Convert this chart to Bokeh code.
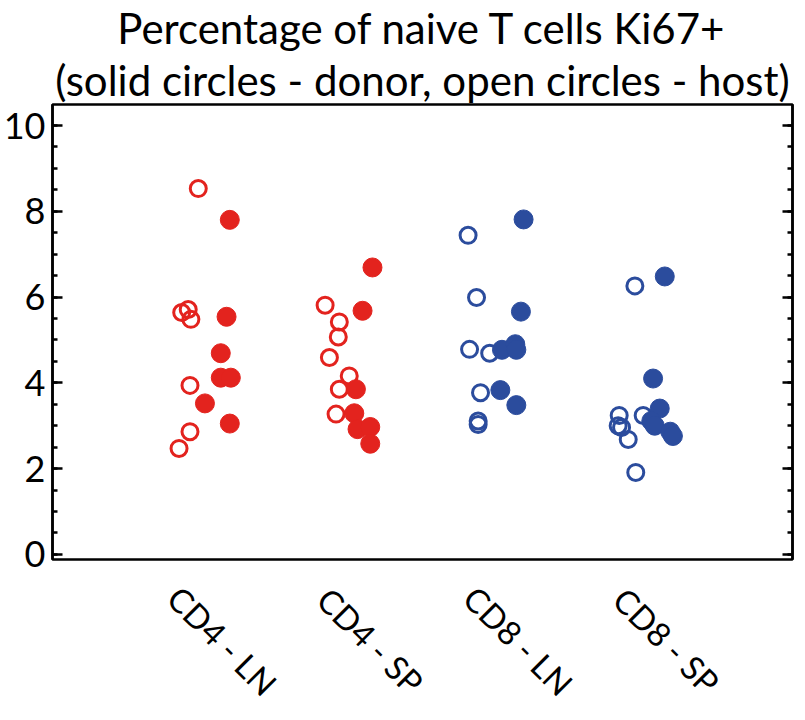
import math
from bokeh.plotting import figure
from bokeh.layouts import column
from bokeh.models import Range1d, LinearAxis, SingleIntervalTicker, ColumnDataSource, Title
from bokeh.core.properties import value
from bokeh.embed import file_html
from bokeh.resources import INLINE

# ---- data ----
categories = ["CD4 - LN", "CD4 - SP", "CD8 - LN", "CD8 - SP"]
cat_pos = [1, 2, 3, 4]
cat_colors = ["#E3231E", "#E3231E", "#2B4C9D", "#2B4C9D"]

# host (open circles)
host_cd4_ln = [8.53, 5.64, 5.71, 5.48, 3.94, 2.86, 2.47]
host_cd4_sp = [5.81, 5.42, 5.07, 4.59, 4.16, 3.85, 3.27]
host_cd8_ln = [7.44, 5.99, 4.78, 4.69, 3.77, 3.11, 3.03]
host_cd8_sp = [6.26, 3.24, 3.24, 3.00, 2.96, 2.68, 1.91]
# horizontal jitter of host points (category units)
host_jit_cd4_ln = [-0.015, -0.127, -0.083, -0.065, -0.071, -0.071, -0.145]
host_jit_cd4_sp = [-0.158, -0.062, -0.069, -0.129, 0.005, -0.062, -0.084]
host_jit_cd8_ln = [-0.192, -0.135, -0.182, -0.046, -0.108, -0.124, -0.124]
host_jit_cd8_sp = [-0.065, -0.009, -0.171, -0.178, -0.155, -0.110, -0.059]

# donor (solid circles)
donor_cd4_ln = [7.80, 5.54, 4.69, 4.12, 4.12, 3.52, 3.05]
donor_cd4_sp = [6.69, 5.68, 3.85, 3.29, 2.92, 2.97, 2.58]
donor_cd8_ln = [7.81, 5.66, 4.77, 4.90, 4.77, 3.83, 3.48]
donor_cd8_sp = [6.48, 4.10, 3.40, 3.11, 3.00, 2.86, 2.76]
donor_jit_cd4_ln = [0.198, 0.176, 0.137, 0.137, 0.205, 0.030, 0.198]
donor_jit_cd4_sp = [0.162, 0.095, 0.050, 0.039, 0.061, 0.147, 0.147]
donor_jit_cd8_ln = [0.183, 0.165, 0.037, 0.127, 0.134, 0.026, 0.134]
donor_jit_cd8_sp = [0.137, 0.058, 0.103, 0.046, 0.069, 0.174, 0.192]

host_vals = [host_cd4_ln, host_cd4_sp, host_cd8_ln, host_cd8_sp]
host_jits = [host_jit_cd4_ln, host_jit_cd4_sp, host_jit_cd8_ln, host_jit_cd8_sp]
donor_vals = [donor_cd4_ln, donor_cd4_sp, donor_cd8_ln, donor_cd8_sp]
donor_jits = [donor_jit_cd4_ln, donor_jit_cd4_sp, donor_jit_cd8_ln, donor_jit_cd8_sp]

title_line1 = "Percentage of naive T cells Ki67+"
title_line2 = "(solid circles - donor, open circles - host)"

FONT = "Lato"
W = 797

p = figure(width=W, height=576,
           x_range=Range1d(0, 5), y_range=Range1d(-0.12, 10.49),
           output_backend="svg", toolbar_location=None,
           min_border_left=50, min_border_right=5,
           min_border_top=104, min_border_bottom=17,
           x_axis_location="below", y_axis_location="left")

p.grid.visible = False
p.outline_line_color = "black"
p.outline_line_width = 2.5
p.background_fill_color = "white"
p.border_fill_color = "white"

# title (two centred lines)
p.title.text = title_line1
p.title.align = "center"
p.title.text_font = FONT
p.title.text_font_style = "normal"
p.title.text_font_size = "42px"
p.title.text_color = "black"
p.title.standoff = 0
p.title.offset = 0
t2 = Title(text=title_line2, align="center", text_font=FONT, text_font_style="normal",
           text_font_size="42px", text_color="black", standoff=0, offset=0)
p.add_layout(t2, "above")

# left axis
ya = p.yaxis[0]
ya.ticker = SingleIntervalTicker(interval=2, num_minor_ticks=4)
ya.major_label_text_font = FONT
ya.major_label_text_font_size = "36px"
ya.major_label_text_color = "black"
ya.major_label_standoff = 7
ya.major_tick_in = 10
ya.major_tick_out = 0
ya.minor_tick_in = 5
ya.minor_tick_out = 0
ya.major_tick_line_width = 2.5
ya.minor_tick_line_width = 2.5
ya.axis_line_width = 2.5
ya.axis_line_color = "black"

# right axis (ticks only)
ra = LinearAxis(ticker=SingleIntervalTicker(interval=2, num_minor_ticks=4),
                major_label_text_font_size="0px", major_label_text_color=None,
                major_tick_in=10, major_tick_out=0, minor_tick_in=5, minor_tick_out=0,
                major_tick_line_width=2.5, minor_tick_line_width=2.5,
                axis_line_width=2.5, major_label_standoff=0)
p.add_layout(ra, "right")

# bottom edge is drawn by the frame outline
p.xaxis.visible = False

for c, col, hv, hj, dv, dj in zip(cat_pos, cat_colors, host_vals, host_jits, donor_vals, donor_jits):
    hs = ColumnDataSource(dict(x=[c + j for j in hj], y=hv))
    ds = ColumnDataSource(dict(x=[c + j for j in dj], y=dv))
    p.scatter("x", "y", source=hs, marker="circle", size=16,
              fill_color=None, line_color=col, line_width=3)
    p.scatter("x", "y", source=ds, marker="circle", size=19,
              fill_color=col, line_color=col, line_width=1)

# category labels strip, sharing the x scale of the plot
q = figure(width=W, height=128, x_range=p.x_range, y_range=Range1d(0, 1),
           output_backend="svg", toolbar_location=None,
           min_border_left=50, min_border_right=5, min_border_top=0, min_border_bottom=0,
           x_axis_location=None, y_axis_location=None)
q.grid.visible = False
q.outline_line_color = None
q.background_fill_color = "white"
q.border_fill_color = "white"
lab = ColumnDataSource(dict(x=[c + 0.15 for c in cat_pos], y=[0.5] * len(cat_pos), text=categories))
q.text("x", "y", text="text", source=lab, angle=-math.pi / 4,
       text_align="center", text_baseline="middle",
       text_font=value(FONT), text_font_size="33px", text_color="black")

layout = column(p, q, spacing=0)
open("out.html", "w").write(file_html(layout, INLINE))
